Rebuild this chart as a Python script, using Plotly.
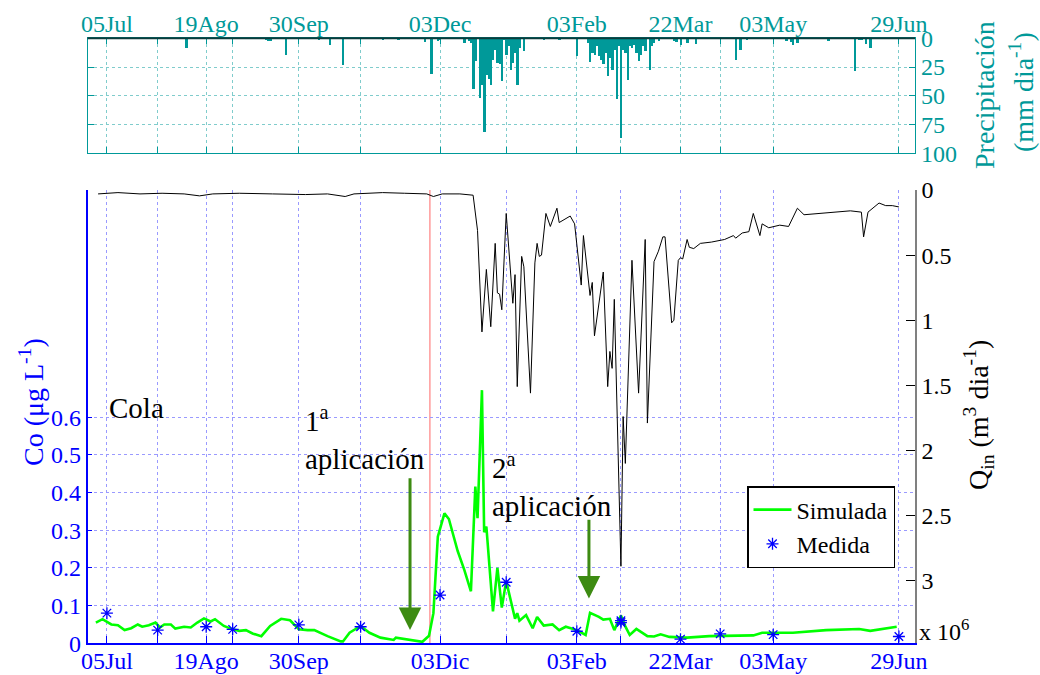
import pandas as pd
import plotly.graph_objects as go

# ---------------------------------------------------------------------------
# Datos (días contados desde el 05 Jul 2010)
# ---------------------------------------------------------------------------
FECHA0 = pd.Timestamp("2010-07-05")

# Precipitación diaria (mm dia-1)
precip_dias = [36, 72, 73, 74, 81, 96, 101, 107, 125, 132, 144, 147, 150, 151,
               162, 164, 165, 166, 167, 169, 170, 171, 172, 173, 174, 175, 176,
               177, 178, 179, 180, 181, 182, 183, 184, 185, 186, 187, 189, 198,
               205, 213, 218, 219, 220, 221, 222, 223, 224, 225, 226, 227, 228,
               229, 230, 231, 232, 233, 234, 235, 236, 237, 238, 239, 240, 241,
               242, 243, 244, 246, 247, 248, 250, 257, 258, 260, 263, 267, 285,
               287, 290, 308, 310, 311, 313, 327, 339, 341, 342, 344, 346]
precip_mm = [8.7, 2.0, 2.5, 3.0, 15.0, 1.5, 5.8, 23.8, 1.0, 1.0, 3.8, 31.3, 3.0, 2.0,
             4.3, 3.0, 4.3, 44.0, 20.0, 52.0, 40.6, 81.8, 32.0, 35.7, 40.6, 19.0, 10.0,
             21.8, 23.0, 37.0, 2.0, 14.5, 7.3, 27.6, 21.8, 13.0, 40.6, 8.7, 11.6, 1.0,
             1.5, 16.0, 4.0, 21.0, 13.0, 14.5, 7.3, 16.0, 19.0, 23.0, 13.0, 33.4, 17.4,
             27.6, 10.0, 53.0, 7.3, 87.0, 10.0, 13.0, 36.8, 7.3, 8.7, 5.8, 13.0, 20.0,
             14.5, 7.3, 11.6, 27.6, 7.3, 4.3, 3.0, 3.0, 3.5, 5.8, 4.3, 5.5, 19.4,
             10.0, 1.5, 3.0, 3.5, 6.0, 4.0, 2.5, 28.4, 2.0, 2.0, 5.0, 8.5]

# Caudal de entrada Q_in (x 10^6 m3 dia-1)
q_dias = [-4, 5, 15, 25, 35, 42, 48, 60, 75, 90, 100, 108, 112, 125, 135, 145,
          148, 152, 160, 166, 168, 170, 172, 174, 176, 177, 178, 179, 181, 184,
          185, 186, 188, 189, 192, 194, 195, 196, 197, 199, 201, 204, 205, 210,
          212, 215, 216, 219, 220, 221, 225, 227, 228, 229, 230, 233, 234, 235,
          238, 241, 244, 245, 248, 250, 252, 253, 256, 257, 259, 260, 261, 263,
          264, 266, 269, 274, 280, 284, 285, 288, 291, 293, 296, 297, 300, 305,
          309, 313, 316, 322, 330, 337, 342, 343, 345, 350, 353, 356, 359]
q_in = [0.03, 0.02, 0.03, 0.025, 0.03, 0.045, 0.03, 0.025, 0.03, 0.035, 0.03, 0.05,
        0.03, 0.02, 0.025, 0.03, 0.05, 0.03, 0.03, 0.04, 0.31, 1.09, 0.61, 1.05,
        0.41, 0.79, 0.80, 0.92, 0.18, 0.87, 0.65, 1.51, 0.51, 0.59, 1.56, 0.56,
        0.41, 0.51, 0.50, 0.18, 0.28, 0.14, 0.25, 0.20, 0.26, 0.73, 0.35, 0.81,
        0.71, 1.12, 0.63, 1.51, 1.24, 1.37, 0.84, 2.89, 1.74, 2.10, 0.54, 1.56,
        0.38, 1.79, 0.55, 0.47, 0.36, 0.36, 1.02, 1.00, 0.54, 0.52, 0.53, 0.38,
        0.44, 0.45, 0.41, 0.40, 0.38, 0.35, 0.37, 0.33, 0.32, 0.18, 0.35, 0.26,
        0.29, 0.27, 0.28, 0.14, 0.19, 0.18, 0.17, 0.16, 0.17, 0.36, 0.17, 0.10,
        0.12, 0.12, 0.13]

# Concentración simulada (µg L-1)
sim_dias = [-5, -2, 2, 5, 8, 11, 14, 16, 19, 22, 24, 26, 29, 31, 35, 38, 41, 44,
            47, 49, 53, 57, 60, 63, 66, 70, 74, 79, 83, 87, 91, 94, 100, 106, 107,
            110, 115, 119, 124, 130, 131, 137, 143, 146, 148, 150, 153, 155, 159,
            162, 165, 167, 168, 170, 171, 172, 175, 177, 179, 181, 185, 186, 187,
            190, 193, 195, 198, 202, 205, 208, 213, 217, 219, 223, 225, 228, 230,
            233, 235, 237, 240, 245, 248, 251, 255, 263, 273, 293, 297, 311, 326,
            341, 346, 358]
sim_co = [0.055, 0.064, 0.05, 0.048, 0.035, 0.04, 0.05, 0.044, 0.048, 0.055, 0.042,
          0.05, 0.05, 0.039, 0.044, 0.042, 0.055, 0.066, 0.058, 0.064, 0.046, 0.037,
          0.033, 0.035, 0.026, 0.019, 0.046, 0.065, 0.061, 0.037, 0.035, 0.035,
          0.019, 0.005, 0.005, 0.028, 0.046, 0.028, 0.015, 0.009, 0.015, 0.009,
          0.004, 0.02, 0.08, 0.283, 0.345, 0.33, 0.245, 0.195, 0.138, 0.416, 0.332,
          0.672, 0.295, 0.31, 0.085, 0.2, 0.095, 0.165, 0.065, 0.08, 0.06, 0.075,
          0.04, 0.07, 0.047, 0.05, 0.035, 0.044, 0.035, 0.022, 0.081, 0.07, 0.063,
          0.065, 0.035, 0.074, 0.045, 0.022, 0.038, 0.019, 0.018, 0.024, 0.017,
          0.015, 0.019, 0.021, 0.028, 0.028, 0.035, 0.038, 0.033, 0.044]

# Concentración medida (µg L-1)
med_fechas = ["2010-07-05", "2010-07-28", "2010-08-19", "2010-08-31", "2010-09-30",
              "2010-10-28", "2010-12-03", "2011-01-02", "2011-02-03", "2011-02-23",
              "2011-02-23", "2011-03-22", "2011-04-09", "2011-05-03", "2011-06-29"]
med_co = [0.08, 0.035, 0.044, 0.037, 0.049, 0.044, 0.128, 0.162, 0.032, 0.055,
          0.06, 0.011, 0.025, 0.023, 0.018]

# Marcas del eje temporal (fechas de muestreo) y sus etiquetas
tick_fechas = ["2010-07-05", "2010-07-28", "2010-08-19", "2010-08-31", "2010-09-30",
               "2010-10-28", "2010-12-03", "2011-01-02", "2011-02-03", "2011-02-23",
               "2011-03-22", "2011-04-09", "2011-05-03", "2011-06-29"]
tick_inf = ["05Jul", "", "19Ago", "", "30Sep", "", "03Dic", "", "03Feb", "",
            "22Mar", "", "03May", "29Jun"]
tick_sup = ["05Jul", "", "19Ago", "", "30Sep", "", "03Dec", "", "03Feb", "",
            "22Mar", "", "03May", "29Jun"]

co_ticks = [0, 0.1, 0.2, 0.3, 0.4, 0.5, 0.6]
q_ticks = [0, 0.5, 1, 1.5, 2, 2.5, 3]
p_ticks = [0, 25, 50, 75, 100]

# Aplicaciones (día, Co de la punta, Co del origen de la flecha)
aplic_dias = [137.4, 218.5]
aplic_punta = [0.035, 0.119]
aplic_cola = [0.442, 0.332]
dia_limite = 146.4  # línea vertical roja

# ---------------------------------------------------------------------------
def fecha(d):
    return FECHA0 + pd.to_timedelta(d, unit="D")


def fechas(dias):
    return [fecha(d) for d in dias]


W, H = 1040, 675
FONT = "Liberation Serif, Times New Roman, Times, serif"
TEAL = "#009999"
BLUE = "#0000ff"
GREEN = "#00ff00"
ARROW = "#3d8b12"

x_rango = [fecha(-8.8), fecha(366.3)]
x_dom = [87.5 / W, 915 / W]
y_dom_inf = [1 - 643.3 / H, 1 - 190 / H]
y_dom_sup = [1 - 153.3 / H, 1 - 38.3 / H]

fig = go.Figure()

# Precipitación (panel superior)
fig.add_trace(go.Bar(x=fechas(precip_dias), y=precip_mm, xaxis="x2", yaxis="y2",
                     marker=dict(color=TEAL, line=dict(width=0)),
                     width=0.85 * 86400000, showlegend=False))

# Concentración simulada
fig.add_trace(go.Scatter(x=fechas(sim_dias), y=sim_co, mode="lines", name="Simulada",
                         line=dict(color=GREEN, width=2.6), xaxis="x", yaxis="y"))
# Concentración medida
fig.add_trace(go.Scatter(x=pd.to_datetime(med_fechas), y=med_co, mode="markers",
                         name="Medida", xaxis="x", yaxis="y",
                         marker=dict(symbol="asterisk-open", size=10, color=BLUE,
                                     line=dict(color=BLUE, width=1.3))))
# Caudal de entrada
fig.add_trace(go.Scatter(x=fechas(q_dias), y=q_in, mode="lines", xaxis="x", yaxis="y3",
                         line=dict(color="black", width=1), showlegend=False))

fs = 24
fig.update_layout(
    width=W, height=H,
    margin=dict(l=0, r=0, t=0, b=0, pad=0),
    paper_bgcolor="white", plot_bgcolor="rgba(0,0,0,0)",
    font=dict(family=FONT, size=fs, color="black"),
    bargap=0,
    xaxis=dict(domain=x_dom, anchor="y", type="date", range=x_rango, automargin=False,
               tickvals=pd.to_datetime(tick_fechas), ticktext=tick_inf,
               tickfont=dict(color=BLUE, size=fs), ticks="inside", ticklen=8,
               ticklabelstandoff=-5,
               tickcolor=BLUE, showline=True, linecolor=BLUE, linewidth=1.5,
               showgrid=True, gridcolor="#9a9aff", griddash="dot", gridwidth=1,
               zeroline=False),
    xaxis3=dict(overlaying="x", matches="x", anchor="y", side="top", type="date",
                range=x_rango, tickvals=pd.to_datetime(tick_fechas), automargin=False,
                showticklabels=False, ticks="inside", ticklen=8, tickcolor="black",
                showline=True, linecolor="black", linewidth=1.2, showgrid=False),
    yaxis=dict(domain=y_dom_inf, anchor="x", range=[0, 453.3 / 376.7 * 0.1 * 10],
               tickvals=co_ticks, ticktext=[f"{v:g}" for v in co_ticks], automargin=False,
               tickfont=dict(color=BLUE, size=fs), ticks="inside", ticklen=5,
               tickcolor=BLUE, showline=True, linecolor=BLUE, linewidth=1.5,
               showgrid=True, gridcolor="#9a9aff", griddash="dot", gridwidth=1,
               zeroline=False),
    yaxis3=dict(overlaying="y", anchor="x", side="right", range=[453.3 / 130.2, 0],
                tickvals=q_ticks, ticktext=[f"{v:g}" for v in q_ticks], automargin=False,
                tickfont=dict(color="black", size=fs), ticks="inside", ticklen=9,
                tickcolor="black", showline=True, linecolor="#808080", linewidth=1.5,
                showgrid=False, zeroline=False),
    xaxis2=dict(domain=x_dom, anchor="y2", side="top", type="date", range=x_rango,
                tickvals=pd.to_datetime(tick_fechas), ticktext=tick_sup, automargin=False,
                tickfont=dict(color=TEAL, size=fs), ticks="inside", ticklen=6,
                ticklabelstandoff=-4,
                tickcolor=TEAL, showline=True, linecolor=TEAL, linewidth=1.2,
                mirror="ticks", showgrid=True, gridcolor="#80cccc", griddash="dot",
                gridwidth=1, zeroline=False),
    yaxis2=dict(domain=y_dom_sup, anchor="x2", side="right", range=[100, 0],
                tickvals=p_ticks, ticktext=[str(v) for v in p_ticks], automargin=False,
                tickfont=dict(color=TEAL, size=fs), ticks="inside", ticklen=6,
                tickcolor=TEAL, showline=True, linecolor=TEAL, linewidth=1.2,
                mirror="ticks", showgrid=True, gridcolor="#80cccc", griddash="dot",
                gridwidth=1, zeroline=False),
    legend=dict(x=747 / W, y=1 - 486 / H, xanchor="left", yanchor="top",
                bgcolor="white", bordercolor="black", borderwidth=1.5,
                font=dict(family=FONT, size=fs, color="black"),
                itemwidth=38, tracegroupgap=0),
)

# Borde superior del panel de precipitación
fig.add_shape(type="line", xref="x2 domain", yref="y2 domain", x0=0, x1=1, y0=1, y1=1,
              line=dict(color="#0b3b3b", width=2))
# Línea vertical roja
fig.add_shape(type="line", xref="x", yref="y domain", x0=fecha(dia_limite),
              x1=fecha(dia_limite), y0=0, y1=1, layer="below",
              line=dict(color="#ff9a9a", width=1.5))

# Flechas de las aplicaciones
for d, yp, yc in zip(aplic_dias, aplic_punta, aplic_cola):
    fig.add_annotation(x=fecha(d), y=yp, ax=fecha(d), ay=yc, xref="x", yref="y",
                       axref="x", ayref="y", text="", showarrow=True,
                       arrowhead=2, arrowsize=1.5, arrowwidth=3, arrowcolor=ARROW)

tf = 29
txt = [
    ("Cola", 107, 408),
    ("1<sup>a</sup><br>aplicación", 303, 438),
    ("2<sup>a</sup><br>aplicación", 490, 485),
]
for t, px, py in txt:
    fig.add_annotation(text=t, x=px / W, y=1 - py / H, xref="paper", yref="paper",
                       xanchor="left", yanchor="middle", align="left", showarrow=False,
                       font=dict(family=FONT, size=tf, color="black"))

# Títulos de ejes
titulos = [
    ("Co (μg L<sup>-1</sup>)", 32, 402, BLUE),
    ("Q<sub>in</sub> (m<sup>3</sup> dia<sup>-1</sup>)", 978, 415, "black"),
    ("Precipitación", 985, 95, TEAL),
    ("(mm dia<sup>-1</sup>)", 1021, 92, TEAL),
]
for t, px, py, c in titulos:
    fig.add_annotation(text=t, x=px / W, y=1 - py / H, xref="paper", yref="paper",
                       xanchor="center", yanchor="middle", textangle=-90,
                       showarrow=False, font=dict(family=FONT, size=28, color=c))

fig.add_annotation(text="x 10<sup>6</sup>", x=917 / W, y=1 - 630 / H, xref="paper",
                   yref="paper", xanchor="left", yanchor="middle", showarrow=False,
                   font=dict(family=FONT, size=fs, color="black"))

fig.write_html("out.html")
